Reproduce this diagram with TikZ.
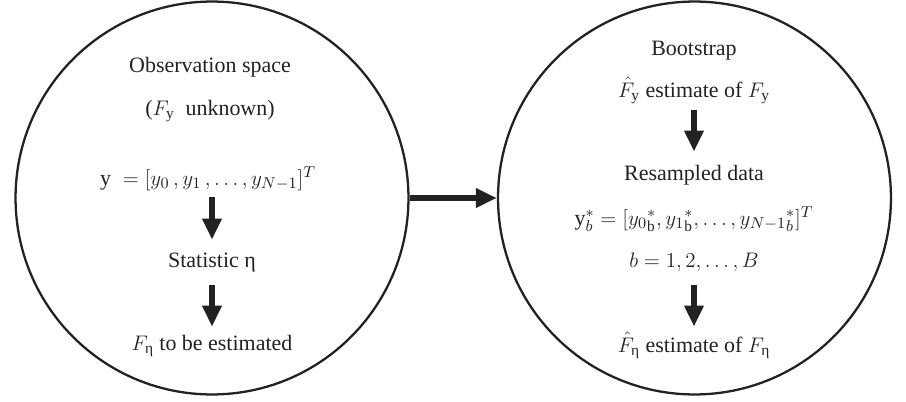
\documentclass[tikz,border=0pt]{standalone}
\usepackage{amsmath}
\usepackage{fontspec}
\setmainfont{Liberation Serif}
\usepackage{xcolor}
\usetikzlibrary{arrows.meta}
\definecolor{ink}{HTML}{222222}
\newcommand{\ueta}{\text{η}}

\begin{document}
\begin{tikzpicture}[
  x=0.02cm, y=-0.02cm,
  space/.style={circle, draw=ink, line width=1.3pt, minimum size=7.86cm, inner sep=0pt},
  txt/.style={inner sep=1pt, text height=9pt, text depth=3pt, text=ink, font=\fontsize{12.5}{14}\selectfont},
  bigarrow/.style={draw=ink, line width=3.6pt, -{Triangle[length=12pt, width=10.5pt]}}
]
  \useasboundingbox (0,0) rectangle (906,402);

  \node[space] (obs) at (212,198) {};
  \node[space] (boot) at (694.5,198) {};

  \node[txt] (obstitle) at (210,67) {Observation space};
  \node[txt] (unknown) at (210,110) {($F_{\mathrm{y}}$\ \ unknown)};
  \node[txt] (yvec) at (208,180) {$\mathrm{y}\;=[y_0\,, y_1\,, \ldots, y_{N-1}]^T$};
  \node[txt] (stat) at (212,262) {Statistic η};
  \node[txt] (feta) at (212,345) {$F_{\ueta}$ to be estimated};

  \node[txt] (boottitle) at (694,50) {Bootstrap};
  \node[txt] (fyhat) at (694,92) {$\hat{F}_{\mathrm{y}}$ estimate of $F_{\mathrm{y}}$};
  \node[txt] (resampled) at (694,175) {Resampled data};
  \node[txt] (ystar) at (694,220) {$\mathrm{y}^*_b=[y_0{}^*_{\mathrm{b}}, y_1{}^*_{\mathrm{b}}, \ldots, y_{N-1}{}^*_b]^T$};
  \node[txt] (brange) at (694,262) {$b=1, 2, \ldots, B$};
  \node[txt] (fetahat) at (694,347) {$\hat{F}_{\ueta}$ estimate of $F_{\ueta}$};

  \draw[bigarrow, shorten <=2.7pt, shorten >=5.5pt] (yvec.south -| stat) -- (stat);
  \draw[bigarrow, shorten <=6.1pt, shorten >=3.2pt] (stat) -- (feta);
  \draw[bigarrow, shorten <=3.2pt, shorten >=6.1pt] (fyhat) -- (resampled);
  \draw[bigarrow, shorten <=6.1pt, shorten >=4.4pt] (brange) -- (fetahat);
  \draw[bigarrow] (obs) -- (boot);
\end{tikzpicture}
\end{document}
